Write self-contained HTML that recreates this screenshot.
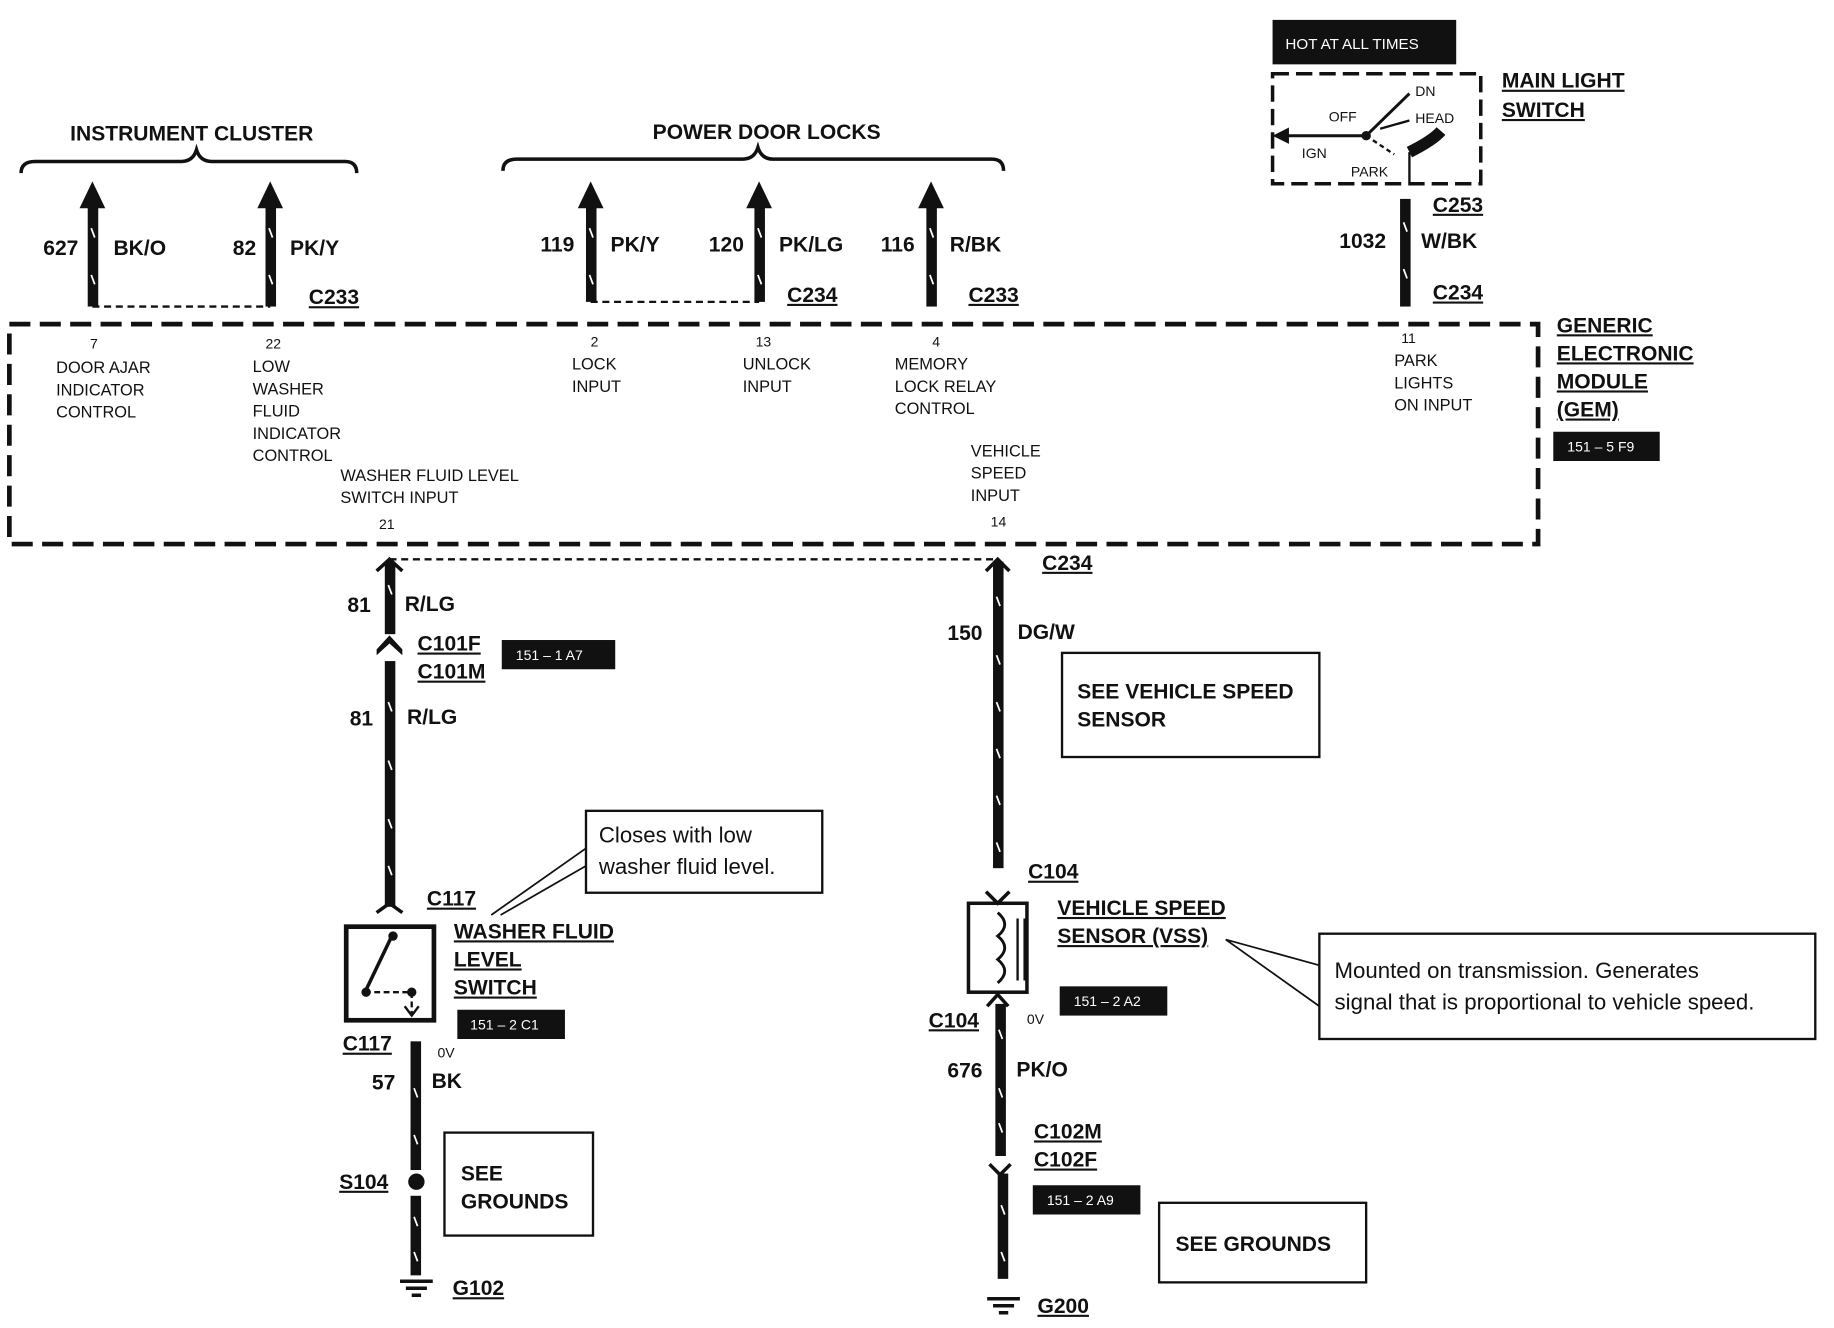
<!DOCTYPE html>
<html><head><meta charset="utf-8"><style>
html,body{margin:0;padding:0;background:#fff;}
svg{display:block;}
text{font-family:"Liberation Sans",Arial,sans-serif;fill:#111;}
.b{font-weight:bold;font-size:18px;}
.s{font-size:14px;}
.t{font-size:12px;}
.w{font-size:12px;fill:#fff;}
.u{text-decoration:underline;}
</style></head><body>
<svg width="1834" height="1328" viewBox="0 0 1568 1135" preserveAspectRatio="none" xmlns="http://www.w3.org/2000/svg">
<rect width="1568" height="1135" fill="#fff"/>
<g stroke="#111" fill="none" stroke-width="3">
<path d="M18,148 Q18,138 30,138 L155,138 Q165,138 168,128 Q171,138 181,138 L295,138 Q305,138 305,148"/>
<path d="M430,146 Q430,136 442,136 L635,136 Q645,136 648,126 Q651,136 661,136 L848,136 Q858,136 858,146"/>
<rect x="8" y="277" width="1307" height="188" stroke-width="4" stroke-dasharray="18 8"/>
<path d="M79,262 L231,262" stroke-width="2" stroke-dasharray="6 4"/>
<path d="M505,258 L649,258" stroke-width="2" stroke-dasharray="6 4"/>
<path d="M333,478 L853,478" stroke-width="2" stroke-dasharray="6 4"/>
<rect x="1088" y="63" width="178" height="94" stroke-width="3" stroke-dasharray="14 6"/>
<path d="M1095,116 L1168,116 L1205,80" stroke-width="2.5"/>
<path d="M1168,116 L1192,132" stroke-width="2" stroke-dasharray="4 3"/>
<path d="M1180,110 L1205,103" stroke-width="2"/>
<path d="M1205,130 Q1225,120 1232,112" stroke-width="10"/>
<path d="M1205,130 L1205,156" stroke-width="2"/>
</g>
<g fill="#111">
<polygon points="1088,116 1102,109 1102,123"/>
<circle cx="1168" cy="116" r="4"/>
<rect x="1088" y="17" width="157" height="38"/>
<rect x="75" y="172" width="9" height="90"/><polygon points="79,155 68,178 90,178"/>
<rect x="227" y="172" width="9" height="90"/><polygon points="231,155 220,178 242,178"/>
<rect x="501" y="172" width="9" height="86"/><polygon points="505,155 494,178 516,178"/>
<rect x="645" y="172" width="9" height="86"/><polygon points="649,155 638,178 660,178"/>
<rect x="792" y="172" width="9" height="90"/><polygon points="796,155 785,178 807,178"/>
<rect x="1197" y="170" width="9" height="92"/>
<rect x="329" y="480" width="9" height="62"/>
<polygon points="322,555 333,543 344,555 344,560 333,550 322,560"/>
<rect x="329" y="565" width="9" height="210"/>
<rect x="351" y="890" width="9" height="110"/>
<circle cx="356" cy="1010" r="7"/>
<rect x="351" y="1022" width="9" height="68"/>
<rect x="849" y="480" width="9" height="262"/>
<rect x="851" y="858" width="9" height="130"/>
<rect x="853" y="1003" width="9" height="90"/>
<rect x="1328" y="369" width="91" height="25"/>
<rect x="429" y="547" width="97" height="25"/>
<rect x="391" y="863" width="92" height="25"/>
<rect x="906" y="843" width="92" height="25"/>
<rect x="883" y="1013" width="92" height="25"/>
<circle cx="313" cy="848" r="4"/><circle cx="336" cy="800" r="4"/><circle cx="352" cy="848" r="4"/>
</g>
<g stroke="#111" fill="none">
<path d="M342,1095 L370,1095 M347,1101 L365,1101 M352,1107 L360,1107" stroke-width="3"/>
<path d="M844,1110 L872,1110 M849,1116 L867,1116 M854,1122 L862,1122" stroke-width="3"/>
<path d="M322,780 L333,772 L344,780" stroke-width="3"/>
<path d="M843,762 L853,772 L863,762" stroke-width="3"/>
<path d="M843,488 L853,478 L863,488" stroke-width="3"/>
<path d="M322,488 L333,478 L344,488" stroke-width="3"/>
<rect x="296" y="792" width="75" height="80" stroke-width="4"/>
<path d="M312,848 L335,800" stroke-width="3"/>
<path d="M312,848 L352,848 L352,866" stroke-width="2" stroke-dasharray="5 3"/>
<path d="M346,860 L352,868 L358,860" stroke-width="2"/>
<rect x="828" y="772" width="50" height="76" stroke-width="3"/>
<path d="M853,780 Q865,790 853,800 Q865,810 853,820 Q865,830 853,840" stroke-width="2.5"/>
<path d="M870,785 L870,838 M876,785 L876,838" stroke-width="2"/>
<path d="M844,860 L853,850 L862,860" stroke-width="3"/>
<path d="M846,995 L855,1004 L864,995" stroke-width="3"/>
<rect x="501" y="693" width="202" height="70" stroke-width="2"/>
<path d="M501,725 L420,782 M501,740 L428,782" stroke-width="1.5"/>
<rect x="908" y="558" width="220" height="89" stroke-width="2"/>
<rect x="1128" y="798" width="424" height="90" stroke-width="2"/>
<path d="M1128,825 L1048,803 L1128,860" stroke-width="1.5"/>
<rect x="380" y="968" width="127" height="88" stroke-width="2"/>
<rect x="991" y="1028" width="177" height="68" stroke-width="2"/>
</g>
<g stroke="#fff" stroke-width="1.5">
<path d="M78,195 l3,8 M78,235 l3,8 M230,195 l3,8 M230,235 l3,8 M504,195 l3,8 M504,235 l3,8 M648,195 l3,8 M648,235 l3,8 M795,195 l3,8 M795,235 l3,8 M1200,190 l3,8 M1200,230 l3,8"/>
<path d="M332,500 l3,8 M332,600 l3,8 M332,650 l3,8 M332,700 l3,8 M332,740 l3,8 M852,510 l3,8 M852,560 l3,8 M852,600 l3,8 M852,640 l3,8 M852,680 l3,8 M852,720 l3,8 M854,880 l3,8 M854,930 l3,8 M854,960 l3,8 M856,1030 l3,8 M856,1070 l3,8 M354,930 l3,8 M354,970 l3,8 M354,1040 l3,8 M354,1070 l3,8"/>
</g>
<g class="b">
<text x="60" y="120">INSTRUMENT CLUSTER</text>
<text x="558" y="119">POWER DOOR LOCKS</text>
<text x="37" y="218">627</text><text x="97" y="218">BK/O</text>
<text x="199" y="218">82</text><text x="248" y="218">PK/Y</text>
<text x="462" y="215">119</text><text x="522" y="215">PK/Y</text>
<text x="606" y="215">120</text><text x="666" y="215">PK/LG</text>
<text x="753" y="215">116</text><text x="812" y="215">R/BK</text>
<text x="1145" y="212">1032</text><text x="1215" y="212">W/BK</text>
<text x="264" y="260" class="u">C233</text><text x="673" y="258" class="u">C234</text><text x="828" y="258" class="u">C233</text>
<text x="1225" y="181" class="u">C253</text><text x="1225" y="256" class="u">C234</text>
<text x="1284" y="75" class="u">MAIN LIGHT</text><text x="1284" y="100" class="u">SWITCH</text>
<text x="1331" y="284" class="u">GENERIC</text><text x="1331" y="308" class="u">ELECTRONIC</text><text x="1331" y="332" class="u">MODULE</text><text x="1331" y="356" class="u">(GEM)</text>
<text x="891" y="487" class="u">C234</text>
<text x="297" y="523">81</text><text x="346" y="522">R/LG</text>
<text x="357" y="556" class="u">C101F</text><text x="357" y="580" class="u">C101M</text>
<text x="299" y="620">81</text><text x="348" y="619">R/LG</text>
<text x="810" y="547">150</text><text x="870" y="546">DG/W</text>
<text x="921" y="597">SEE VEHICLE SPEED</text><text x="921" y="621">SENSOR</text>
<text x="879" y="751" class="u">C104</text>
<text x="365" y="774" class="u">C117</text>
<text x="388" y="802" class="u">WASHER FLUID</text><text x="388" y="826" class="u">LEVEL</text><text x="388" y="850" class="u">SWITCH</text>
<text x="904" y="782" class="u">VEHICLE SPEED</text><text x="904" y="806" class="u">SENSOR (VSS)</text>
<text x="794" y="878" class="u">C104</text>
<text x="293" y="898" class="u">C117</text>
<text x="318" y="931">57</text><text x="369" y="930">BK</text>
<text x="810" y="921">676</text><text x="869" y="920">PK/O</text>
<text x="884" y="973" class="u">C102M</text><text x="884" y="997" class="u">C102F</text>
<text x="394" y="1009">SEE</text><text x="394" y="1033">GROUNDS</text>
<text x="290" y="1016" class="u">S104</text>
<text x="1005" y="1069">SEE GROUNDS</text>
<text x="387" y="1107" class="u">G102</text><text x="887" y="1122" class="u">G200</text>
</g>
<g class="t">
<text x="1099" y="42" class="w" style="font-size:13px">HOT AT ALL TIMES</text>
<text x="1210" y="82">DN</text><text x="1136" y="104">OFF</text><text x="1210" y="105">HEAD</text>
<text x="1113" y="135">IGN</text><text x="1155" y="151">PARK</text>
<text x="1340" y="386" class="w">151 – 5 F9</text>
<text x="441" y="564" class="w">151 – 1 A7</text>
<text x="402" y="880" class="w">151 – 2 C1</text>
<text x="918" y="860" class="w">151 – 2 A2</text>
<text x="895" y="1030" class="w">151 – 2 A9</text>
<text x="374" y="904">0V</text><text x="878" y="875">0V</text>
</g>
<g class="s">
<text x="77" y="298" class="t">7</text>
<text x="48" y="319">DOOR AJAR</text><text x="48" y="338">INDICATOR</text><text x="48" y="357">CONTROL</text>
<text x="227" y="298" class="t">22</text>
<text x="216" y="318">LOW</text><text x="216" y="337">WASHER</text><text x="216" y="356">FLUID</text><text x="216" y="375">INDICATOR</text><text x="216" y="394">CONTROL</text>
<text x="505" y="296" class="t">2</text>
<text x="489" y="316">LOCK</text><text x="489" y="335">INPUT</text>
<text x="646" y="296" class="t">13</text>
<text x="635" y="316">UNLOCK</text><text x="635" y="335">INPUT</text>
<text x="797" y="296" class="t">4</text>
<text x="765" y="316">MEMORY</text><text x="765" y="335">LOCK RELAY</text><text x="765" y="354">CONTROL</text>
<text x="1198" y="293" class="t">11</text>
<text x="1192" y="313">PARK</text><text x="1192" y="332">LIGHTS</text><text x="1192" y="351">ON INPUT</text>
<text x="291" y="411">WASHER FLUID LEVEL</text><text x="291" y="430">SWITCH INPUT</text>
<text x="324" y="452" class="t">21</text>
<text x="830" y="390">VEHICLE</text><text x="830" y="409">SPEED</text><text x="830" y="428">INPUT</text>
<text x="847" y="450" class="t">14</text>
</g>
<g style="font-size:19px">
<text x="512" y="720">Closes with low</text><text x="512" y="747">washer fluid level.</text>
<text x="1141" y="836">Mounted on transmission.  Generates</text>
<text x="1141" y="863">signal that is proportional to vehicle speed.</text>
</g>
</svg>
</body></html>
